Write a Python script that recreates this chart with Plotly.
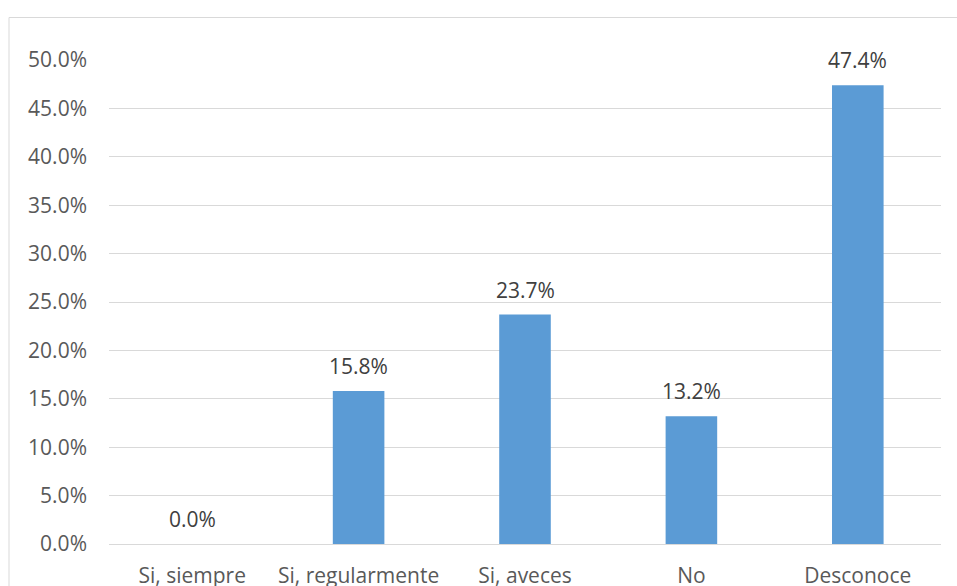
import plotly.graph_objects as go

categories = ["Si, siempre", "Si, regularmente", "Si, aveces", "No", "Desconoce"]
values = [0.0, 15.8, 23.7, 13.2, 47.4]
tick_values = [0, 5, 10, 15, 20, 25, 30, 35, 40, 45, 50]
tick_labels = [f"{v:.1f}%" for v in tick_values]

W, H = 957, 586
ML, MR, MT, MB = 109, 16, 60, 42
pw, ph = W - ML - MR, H - MT - MB
FONT = "Open Sans"
FS = 21


def px_to_paper_x(px):
    return (px - ML) / pw


def px_to_paper_y(py):
    return (H - MB - py) / ph


fig = go.Figure(
    go.Bar(
        x=categories,
        y=values,
        marker=dict(color="#5B9BD5", line=dict(width=0)),
        width=0.31,
        cliponaxis=False,
    )
)

# value labels above each bar
for cat, val in zip(categories, values):
    fig.add_annotation(
        x=cat,
        y=val,
        xref="x",
        yref="y",
        text=f"{val:.1f}%",
        showarrow=False,
        yanchor="middle",
        yshift=25,
        font=dict(family=FONT, size=FS, color="#404040"),
    )

fig.update_layout(
    width=W,
    height=H,
    margin=dict(l=ML, r=MR, t=MT, b=MB, autoexpand=False),
    paper_bgcolor="white",
    plot_bgcolor="white",
    showlegend=False,
    font=dict(family=FONT, size=FS, color="#595959"),
    xaxis=dict(
        showgrid=False,
        showline=True,
        linecolor="#D9D9D9",
        linewidth=1,
        ticks="",
        automargin=False,
        ticklabelstandoff=13,
        tickfont=dict(family=FONT, size=FS, color="#595959"),
    ),
    yaxis=dict(
        range=[0, 50],
        tickvals=tick_values,
        ticktext=tick_labels,
        showgrid=True,
        gridcolor="#D9D9D9",
        gridwidth=1,
        zeroline=False,
        showline=False,
        ticks="",
        automargin=False,
        ticklabelstandoff=21,
        tickfont=dict(family=FONT, size=FS, color="#595959"),
    ),
    shapes=[
        dict(
            type="rect",
            xref="paper",
            yref="paper",
            x0=px_to_paper_x(9),
            x1=px_to_paper_x(965),
            y0=px_to_paper_y(600),
            y1=px_to_paper_y(17.5),
            line=dict(color="#D9D9D9", width=1),
            fillcolor="rgba(0,0,0,0)",
            layer="below",
        )
    ],
)

fig.write_html("out.html")
